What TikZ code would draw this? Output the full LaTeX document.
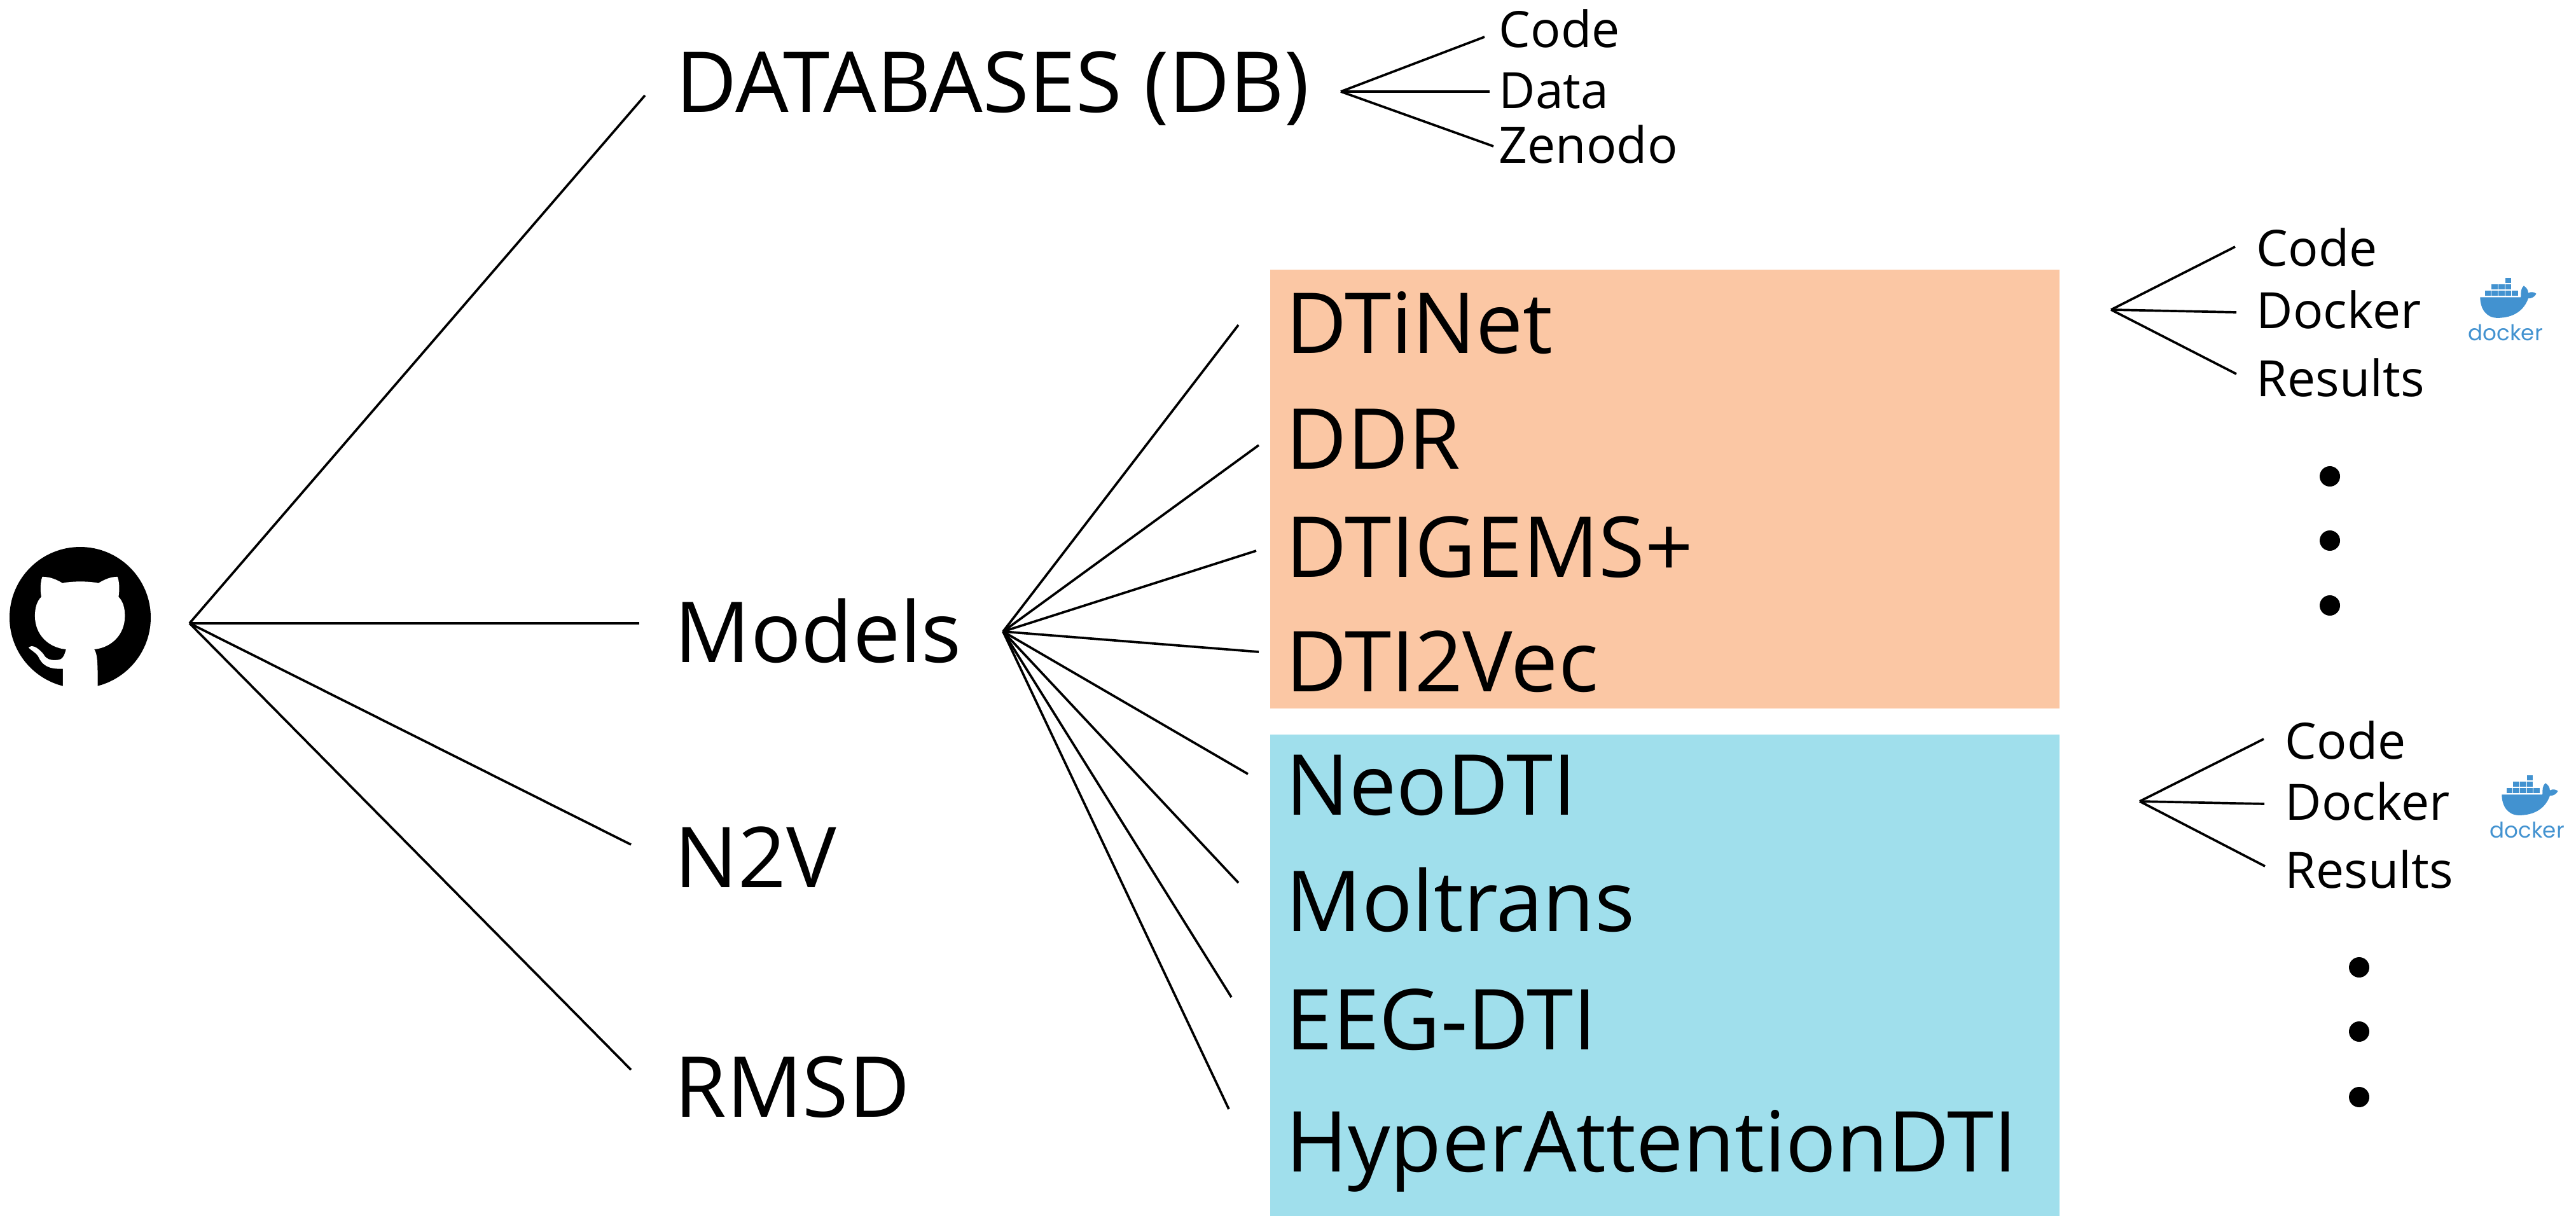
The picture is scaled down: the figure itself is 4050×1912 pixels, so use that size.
\documentclass[tikz,border=0pt]{standalone}
\usepackage{fontspec}
\setmainfont{Open Sans}
\newfontfamily\logofont{Poppins}
\usetikzlibrary{positioning}
\definecolor{panelorange}{HTML}{FBC7A4}
\definecolor{panelblue}{HTML}{A0DFEC}
\definecolor{dockerblue}{HTML}{4292D0}
\tikzset{
  top/.style={inner sep=0pt,anchor=base west,font=\fontsize{37.6}{44}\selectfont},
  model/.style={inner sep=0pt,anchor=base west,font=\fontsize{37.6}{44}\selectfont},
  leaf/.style={inner sep=0pt,anchor=base west,font=\fontsize{22.4}{28}\selectfont},
  panel/.style={inner sep=0pt,anchor=north west,minimum width=12.41cm},
  branch/.style={draw=black,line width=1.05pt},
  bigdot/.style={circle,fill=black,inner sep=0pt,minimum size=0.32cm},
  blocks/.style={fill=dockerblue},
  logotext/.style={inner sep=0pt,anchor=base west,text=dockerblue,
    font=\logofont\fontsize{9.7}{12}\selectfont},
  pics/dockerlogo/.style={code={
    \begin{scope}[x=0.00333cm,y=-0.00333cm]
      \foreach \bx/\by in {80/110,112/110,144/110,176/110,208/110,112/80,144/80,176/80,176/50}
        \fill[blocks] (\bx,\by) rectangle ++(29,25);
      \fill[blocks] (58,142) -- (250,142) .. controls (250,120) and (250,100) .. (264,88)
        .. controls (278,98) and (285,108) .. (285,122)
        .. controls (300,115) and (315,118) .. (323,126)
        .. controls (315,142) and (300,148) .. (285,148)
        .. controls (265,205) and (215,240) .. (140,240)
        .. controls (85,240) and (58,195) .. (58,142) -- cycle;
    \end{scope}
    \node[logotext] (-word) at (0,115) {docker};
  }}
}
\begin{document}
\begin{tikzpicture}[x=0.01cm,y=-0.01cm]
  \useasboundingbox (0,0) rectangle (4050,1912);
  \node[panel,fill=panelorange,minimum height=6.90cm] (orangepanel) at (1996,423) {};
  \node[panel,fill=panelblue,minimum height=7.58cm] (bluepanel) at (1996,1154) {};

  \fill[black] (126,971) circle (111);
  \begin{scope}[x=0.00333cm,y=-0.00333cm,shift={(0,2400)}]
    \fill[white] (297,870) -- (297,760) .. controls (230,762) and (200,745) .. (180,700)
      .. controls (165,680) and (150,675) .. (135,660) .. controls (150,645) and (175,655) .. (205,690)
      .. controls (220,720) and (250,720) .. (270,718) .. controls (300,718) and (305,690) .. (312,668)
      .. controls (230,660) and (165,600) .. (165,510) .. controls (165,470) and (175,440) .. (195,420)
      .. controls (190,390) and (190,350) .. (200,325) .. controls (240,325) and (270,340) .. (295,355)
      .. controls (340,345) and (420,345) .. (465,355) .. controls (490,340) and (520,325) .. (555,325)
      .. controls (565,350) and (565,390) .. (560,420) .. controls (580,440) and (590,470) .. (590,510)
      .. controls (590,600) and (525,660) .. (445,668) .. controls (460,690) and (462,720) .. (462,870) -- cycle;
  \end{scope}

  \node[top] (db) at (1062,176) {DATABASES (DB)};
  \node[top] (models) at (1060,1041) {Models};
  \node[top,below=3.54cm of models.base west,anchor=base west] (ntov) {N2V};
  \node[top,below=3.61cm of ntov.base west,anchor=base west] (rmsd) {RMSD};

  \node[leaf] (dbcode) at (2356,74) {Code};
  \node[leaf,below=0.96cm of dbcode.base west,anchor=base west] (dbdata) {Data};
  \node[leaf,below=0.86cm of dbdata.base west,anchor=base west] (dbzenodo) {Zenodo};

  \node[model] (dtinet) at (2021,555) {DTiNet};
  \node[model,below=1.82cm of dtinet.base west,anchor=base west] (ddr) {DDR};
  \node[model,below=1.70cm of ddr.base west,anchor=base west] (dtigems) {DTIGEMS+};
  \node[model,below=1.80cm of dtigems.base west,anchor=base west] (dtitovec) {DTI2Vec};

  \node[model] (neodti) at (2021,1281) {NeoDTI};
  \node[model,below=1.83cm of neodti.base west,anchor=base west] (moltrans) {Moltrans};
  \node[model,below=1.86cm of moltrans.base west,anchor=base west] (eegdti) {EEG-DTI};
  \node[model,below=1.92cm of eegdti.base west,anchor=base west] (hyperdti) {HyperAttentionDTI};

  \node[leaf] (acode) at (3547,418) {Code};
  \node[leaf,below=0.98cm of acode.base west,anchor=base west] (adocker) {Docker};
  \node[leaf,below=1.07cm of adocker.base west,anchor=base west] (aresults) {Results};

  \node[leaf] (bcode) at (3592,1193) {Code};
  \node[leaf,below=0.96cm of bcode.base west,anchor=base west] (bdocker) {Docker};
  \node[leaf,below=1.07cm of bdocker.base west,anchor=base west] (bresults) {Results};

  \pic (dockA) at (3880,420) {dockerlogo};
  \pic (dockB) at (3914,1202) {dockerlogo};

  \foreach \n/\x/\y in {a1/3663/749,a2/3663/850,a3/3663/952,b1/3709/1521,b2/3709/1622,b3/3709/1725}
    \node[bigdot] (dot\n) at (\x,\y) {};

  \coordinate (rootfan) at (298,980);
  \coordinate (dbfan) at (2108,144);
  \coordinate (modelsfan) at (1577,993);
  \coordinate (afan) at (3319,487);
  \coordinate (bfan) at (3364,1260);

  \foreach \n/\x/\y in {rdb/1014/150,rmodels/1005/980,rntov/992/1328,rrmsd/992/1682}
    \draw[branch] (rootfan) -- (\x,\y) coordinate (\n);
  \foreach \n/\x/\y in {dcode/2334/58,ddata/2342/144,dzenodo/2348/230}
    \draw[branch] (dbfan) -- (\x,\y) coordinate (\n);
  \foreach \n/\x/\y in {m1/1947/511,m2/1979/700,m3/1975/866,m4/1979/1025,m5/1962/1217,m6/1947/1388,m7/1936/1568,m8/1932/1744}
    \draw[branch] (modelsfan) -- (\x,\y) coordinate (\n);
  \foreach \n/\x/\y in {a1/3514/388,a2/3516/491,a3/3516/588}
    \draw[branch] (afan) -- (\x,\y) coordinate (\n);
  \foreach \n/\x/\y in {b1/3559/1162,b2/3560/1264,b3/3561/1362}
    \draw[branch] (bfan) -- (\x,\y) coordinate (\n);
\end{tikzpicture}
\end{document}
